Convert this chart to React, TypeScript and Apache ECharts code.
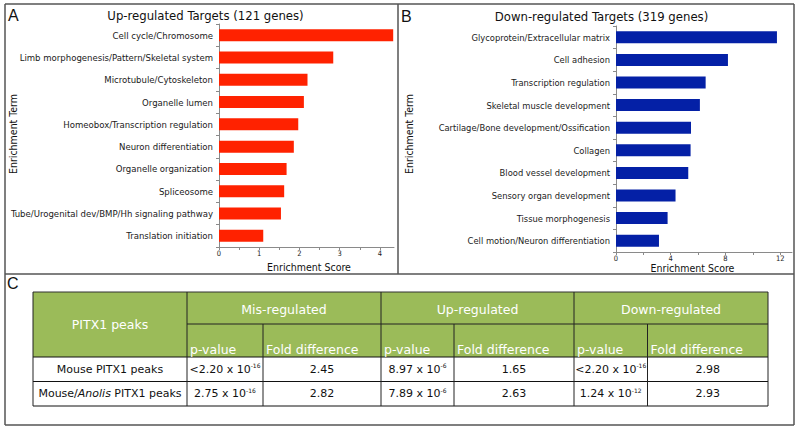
import React, { useEffect, useRef } from "react";
import * as echarts from "echarts";

// ---------- data ----------
const upTitle = "Up-regulated Targets (121 genes)";
const downTitle = "Down-regulated Targets (319 genes)";
const upTerms = [
  "Cell cycle/Chromosome",
  "Limb morphogenesis/Pattern/Skeletal system",
  "Microtubule/Cytoskeleton",
  "Organelle lumen",
  "Homeobox/Transcription regulation",
  "Neuron differentiation",
  "Organelle organization",
  "Spliceosome",
  "Tube/Urogenital dev/BMP/Hh signaling pathway",
  "Translation initiation",
];
const upScores = [4.33, 2.84, 2.2, 2.11, 1.97, 1.86, 1.68, 1.62, 1.54, 1.1];
const downTerms = [
  "Glycoprotein/Extracellular matrix",
  "Cell adhesion",
  "Transcription regulation",
  "Skeletal muscle development",
  "Cartilage/Bone development/Ossification",
  "Collagen",
  "Blood vessel development",
  "Sensory organ development",
  "Tissue morphogenesis",
  "Cell motion/Neuron differentiation",
];
const downScores = [11.76, 8.18, 6.55, 6.13, 5.48, 5.45, 5.28, 4.35, 3.77, 3.14];
const upTickValues = [0, 0.5, 1, 1.5, 2, 2.5, 3, 3.5, 4];
const upTickLabels = [0, 1, 2, 3, 4];
const downTickValues = [0, 2, 4, 6, 8, 10, 12];
const downTickLabels = [0, 4, 8, 12];
const xAxisTitle = "Enrichment Score";
const yAxisTitle = "Enrichment Term";

const tableCorner = "PITX1 peaks";
const tableGroups = ["Mis-regulated", "Up-regulated", "Down-regulated"];
const tableSubHeaders = ["p-value", "Fold difference"];
const tableRowLabels = [
  [{ t: "Mouse PITX1 peaks", i: false }],
  [
    { t: "Mouse/", i: false },
    { t: "Anolis", i: true },
    { t: " PITX1 peaks", i: false },
  ],
];
const pValueMantissa = [
  ["<2.20 x 10", "8.97 x 10", "<2.20 x 10"],
  ["2.75 x 10", "7.89 x 10", "1.24 x 10"],
];
const pValueExponent = [
  ["-16", "-6", "-16"],
  ["-16", "-6", "-12"],
];
const foldDifference = [
  ["2.45", "1.65", "2.98"],
  ["2.82", "2.63", "2.93"],
];

// ---------- style / layout ----------
const CF = '"DejaVu Sans Condensed", "DejaVu Sans", sans-serif';
const TF = '"DejaVu Sans", sans-serif';
const RED = "#ff2200";
const BLUE = "#0420a6";
const GREEN = "#9bbb59";
const AX = "#8a8a8a";
const colX = [33, 187, 263, 381, 454, 574, 647.5, 768];
const rowY = [292, 324, 357, 381.5, 406];

function buildGraphics(): any[] {
  const g: any[] = [];
  const line = (x1: number, y1: number, x2: number, y2: number, stroke = "#111", lw = 1) =>
    g.push({ type: "line", shape: { x1, y1, x2, y2 }, style: { stroke, lineWidth: lw }, silent: true });
  const text = (x: number, y: number, t: string, opts: any = {}) =>
    g.push({
      type: "text",
      silent: true,
      rotation: opts.rotation || 0,
      x,
      y,
      style: {
        text: t,
        fill: opts.fill || "#111",
        fontSize: opts.fontSize || 11,
        fontFamily: opts.fontFamily || TF,
        fontStyle: opts.fontStyle || "normal",
        align: opts.align || "center",
        verticalAlign: "middle",
        rich: opts.rich,
      },
    });

  // panel frames
  const FR = "#555";
  line(5, 4, 794, 4, FR, 1.5);
  line(5, 4, 5, 425, FR, 1.5);
  line(794, 4, 794, 425, FR, 1.5);
  line(5, 425, 794, 425, FR, 1.5);
  line(5, 274, 794, 274, FR, 1.5);
  line(398, 4, 398, 274, FR, 1.5);

  // panel letters
  text(8, 15, "A", { fontSize: 16, align: "left", fontFamily: '"Liberation Sans", sans-serif' });
  text(401, 16, "B", { fontSize: 16, align: "left", fontFamily: '"Liberation Sans", sans-serif' });
  text(7, 283, "C", { fontSize: 16, align: "left", fontFamily: '"Liberation Sans", sans-serif' });

  // titles
  text(205.5, 15, upTitle, { fontSize: 13, fontFamily: CF });
  text(601.5, 16, downTitle, { fontSize: 13, fontFamily: CF });

  // axis titles
  text(309, 267, xAxisTitle, { fontSize: 10.5, fontFamily: CF });
  text(692.5, 267.5, xAxisTitle, { fontSize: 10.5, fontFamily: CF });
  text(12.5, 134, yAxisTitle, { fontSize: 10.5, fontFamily: CF, rotation: Math.PI / 2 });
  text(409, 134, yAxisTitle, { fontSize: 10.5, fontFamily: CF, rotation: Math.PI / 2 });

  // table backgrounds
  g.push({
    type: "rect",
    silent: true,
    shape: { x: colX[0], y: rowY[0], width: colX[7] - colX[0], height: rowY[2] - rowY[0] },
    style: { fill: GREEN },
  });
  g.push({
    type: "rect",
    silent: true,
    shape: { x: colX[0], y: rowY[2], width: colX[7] - colX[0], height: rowY[4] - rowY[2] },
    style: { fill: "#fff" },
  });

  // table lines
  line(colX[0], rowY[0], colX[7], rowY[0], "#333");
  line(colX[1], rowY[1], colX[7], rowY[1], "#222");
  line(colX[0], rowY[2], colX[7], rowY[2], "#111");
  line(colX[0], rowY[3], colX[7], rowY[3], "#111");
  line(colX[0], rowY[4], colX[7], rowY[4], "#111");
  [0, 1, 3, 5, 7].forEach((c) => line(colX[c], rowY[0], colX[c], rowY[4], "#222"));
  [2, 4, 6].forEach((c) => line(colX[c], rowY[1], colX[c], rowY[4], "#222"));

  // header texts
  const HF = 12.5;
  text((colX[0] + colX[1]) / 2, (rowY[0] + rowY[2]) / 2, tableCorner, { fill: "#fff", fontSize: HF });
  tableGroups.forEach((name, gi) => {
    const a = colX[1 + gi * 2];
    const b = colX[3 + gi * 2];
    text((a + b) / 2, (rowY[0] + rowY[1]) / 2 + 1, name, { fill: "#fff", fontSize: HF });
    tableSubHeaders.forEach((s, si) => {
      text(colX[1 + gi * 2 + si] + 3, rowY[2] - 8, s, { fill: "#fff", fontSize: HF, align: "left" });
    });
  });

  // body
  tableRowLabels.forEach((parts, ri) => {
    const cy = (rowY[2 + ri] + rowY[3 + ri]) / 2;
    const rt = parts.map((p) => `{${p.i ? "i" : "n"}|${p.t}}`).join("");
    text((colX[0] + colX[1]) / 2, cy, rt, {
      rich: {
        n: { fontSize: 11, fontFamily: TF, fill: "#111" },
        i: { fontSize: 11, fontFamily: TF, fill: "#111", fontStyle: "italic" },
      },
    });
    tableGroups.forEach((_, gi) => {
      const a = colX[1 + gi * 2];
      const b = colX[2 + gi * 2];
      const c = colX[3 + gi * 2];
      text((a + b) / 2, cy, `{m|${pValueMantissa[ri][gi]}}{s|${pValueExponent[ri][gi]}}`, {
        rich: {
          m: { fontSize: 11, fontFamily: TF, fill: "#111", lineHeight: 13 },
          s: { fontSize: 6, fontFamily: TF, fill: "#111", verticalAlign: "top", lineHeight: 13 },
        },
      });
      text((b + c) / 2, cy, foldDifference[ri][gi], { fontSize: 11 });
    });
  });
  return g;
}

export default function App() {
  const ref = useRef<HTMLDivElement>(null);
  useEffect(() => {
    if (!ref.current) return;
    const chart = echarts.init(ref.current, null, { renderer: "svg" });
    const xAxisCommon = (ticks: number[], labels: number[], max: number, gridIndex: number) => ({
      type: "value",
      gridIndex,
      min: 0,
      max,
      axisLine: { show: true, lineStyle: { color: AX, width: 1 } },
      axisTick: { show: true, customValues: ticks, length: 3, lineStyle: { color: AX } },
      axisLabel: { customValues: labels, fontSize: 7.5, margin: 2.5, color: "#222", fontFamily: CF },
      splitLine: { show: false },
    });
    const yAxisCommon = (terms: string[], gridIndex: number, fs: number) => ({
      type: "category",
      gridIndex,
      inverse: true,
      data: terms,
      axisLine: { show: true, lineStyle: { color: AX, width: 1 } },
      axisTick: { show: true, length: 3, lineStyle: { color: AX } },
      axisLabel: { fontSize: fs, margin: 6, color: "#1a1a1a", fontFamily: CF },
      splitLine: { show: false },
    });
    chart.setOption({
      animation: false,
      backgroundColor: "#fff",
      grid: [
        { left: 219, top: 24, width: 175, height: 223 },
        { left: 616, top: 26, width: 176, height: 226 },
      ],
      xAxis: [
        xAxisCommon(upTickValues, upTickLabels, 4.35, 0),
        xAxisCommon(downTickValues, downTickLabels, 12.86, 1),
      ],
      yAxis: [yAxisCommon(upTerms, 0, 9.5), yAxisCommon(downTerms, 1, 9.3)],
      series: [
        {
          type: "bar",
          xAxisIndex: 0,
          yAxisIndex: 0,
          data: upScores,
          barWidth: 12,
          itemStyle: { color: RED },
        },
        {
          type: "bar",
          xAxisIndex: 1,
          yAxisIndex: 1,
          data: downScores,
          barWidth: 12,
          itemStyle: { color: BLUE },
        },
      ],
      graphic: buildGraphics(),
    });
    return () => chart.dispose();
  }, []);
  return (
    <div
      ref={ref}
      style={{ position: "fixed", left: 0, top: 0, width: 800, height: 430, background: "#fff" }}
    />
  );
}
